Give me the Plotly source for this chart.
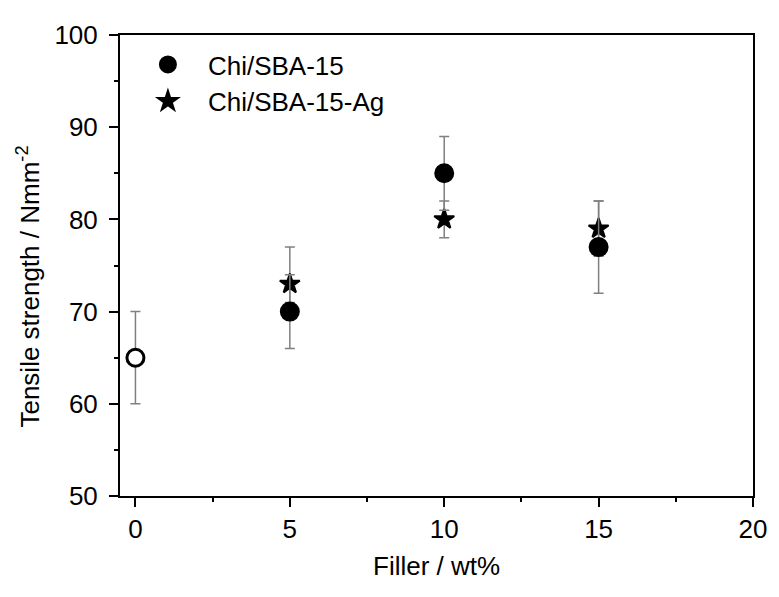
import plotly.graph_objects as go

# Data
filler_pure = [0]
ts_pure = [65]
err_pure = [5]

filler_sba = [5, 10, 15]
ts_sba = [70, 85, 77]
err_sba_plus = [4, 4, 5]
err_sba_minus = [4, 4, 5]

filler_ag = [5, 10, 15]
ts_ag = [73, 80, 79]
err_ag_plus = [4, 2, 3]
err_ag_minus = [2, 2, 3]

x_ticks = [0, 5, 10, 15, 20]
y_ticks = [50, 60, 70, 80, 90, 100]

FONT = "Liberation Sans, Arial, sans-serif"
ERR_COLOR = "#808080"

fig = go.Figure()

fig.add_trace(go.Scatter(
    x=filler_pure, y=ts_pure, mode="markers", name="Chi", showlegend=False,
    marker=dict(symbol="circle", size=17, color="white", line=dict(color="black", width=3)),
    error_y=dict(type="data", array=err_pure, color=ERR_COLOR, thickness=1.5, width=5),
))

fig.add_trace(go.Scatter(
    x=filler_ag, y=ts_ag, mode="markers", name="Chi/SBA-15-Ag", legendrank=2,
    marker=dict(symbol="star", size=15, color="black", line=dict(color="black", width=2)),
    error_y=dict(type="data", symmetric=False, array=err_ag_plus, arrayminus=err_ag_minus,
                 color=ERR_COLOR, thickness=1.5, width=5),
))

fig.add_trace(go.Scatter(
    x=filler_sba, y=ts_sba, mode="markers", name="Chi/SBA-15", legendrank=1,
    marker=dict(symbol="circle", size=18, color="black", line=dict(color="black", width=2)),
    error_y=dict(type="data", symmetric=False, array=err_sba_plus, arrayminus=err_sba_minus,
                 color=ERR_COLOR, thickness=1.5, width=5),
))

axis_common = dict(
    showline=True, linecolor="black", linewidth=2, mirror=True,
    ticks="outside", ticklen=9, tickwidth=2, tickcolor="black",
    showgrid=False, zeroline=False, ticklabeloverflow="allow",
    tickfont=dict(family=FONT, size=26, color="black"),
)

fig.update_xaxes(range=[-0.5, 20], tickmode="array", tickvals=x_ticks,
                 ticktext=[str(v) for v in x_ticks],
                 minor=dict(dtick=2.5, tick0=0, ticks="outside", ticklen=4, tickwidth=2, tickcolor="black"),
                 **axis_common)
fig.update_yaxes(range=[50, 100], tickmode="array", tickvals=y_ticks,
                 ticktext=[str(v) for v in y_ticks], ticklabelstandoff=6,
                 minor=dict(dtick=5, tick0=50, ticks="outside", ticklen=4, tickwidth=2, tickcolor="black"),
                 **axis_common)

fig.update_layout(
    width=771, height=589,
    margin=dict(l=112, r=19, t=15, b=101),
    paper_bgcolor="white", plot_bgcolor="white",
    font=dict(family=FONT, size=26, color="black"),
    showlegend=True,
    legend=dict(x=0.0125, y=0.987, xanchor="left", yanchor="top",
                itemwidth=70,
                bgcolor="rgba(0,0,0,0)", borderwidth=0,
                font=dict(family=FONT, size=26, color="black")),
    annotations=[
        dict(text="Filler / wt%", xref="paper", yref="paper", x=0.5, y=-0.152,
             xanchor="center", yanchor="middle", showarrow=False,
             font=dict(family=FONT, size=26, color="black")),
        dict(text="Tensile strength / Nmm<sup>-2</sup>", xref="paper", yref="paper",
             x=-0.144, y=0.454, textangle=-90, xanchor="center", yanchor="middle",
             showarrow=False, font=dict(family=FONT, size=26, color="black")),
    ],
)

fig.write_html("out.html")
